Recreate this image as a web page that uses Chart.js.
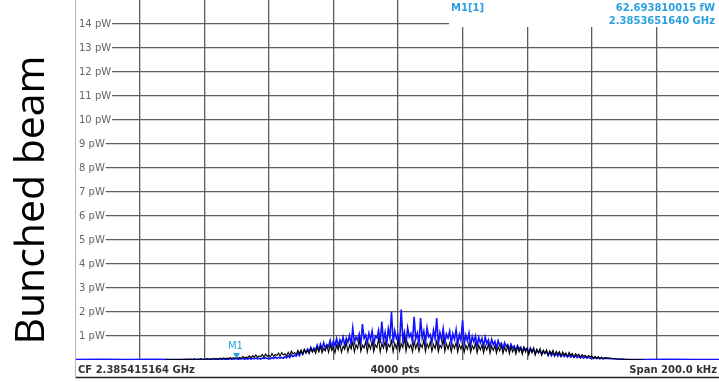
<!DOCTYPE html>
<html>
<head>
<meta charset="utf-8">
<script src="https://cdn.jsdelivr.net/npm/chart.js@4.4.1/dist/chart.umd.min.js"></script>
<style>
  html, body { margin: 0; padding: 0; background: #fff; }
  #wrap { position: relative; width: 719px; height: 382px; overflow: hidden; }
  #side {
    position: absolute; left: -122px; top: 178px; width: 300px; height: 44px;
    line-height: 44px; text-align: center; transform: rotate(-90deg);
    font-family: "Open Sans", sans-serif; font-size: 41px; color: #000; white-space: nowrap;
  }
  canvas { position: absolute; left: 0; top: 0; }
</style>
</head>
<body>
<div id="wrap">
  <canvas id="myChart" width="719" height="382"></canvas>
  <div id="side">Bunched beam</div>
</div>
<script>
// sweep settings (kHz offset from CF)
const xGridKHz = [-80, -60, -40, -20, 0, 20, 40, 60, 80];
const yTickPW = [1, 2, 3, 4, 5, 6, 7, 8, 9, 10, 11, 12, 13, 14];
const coreStartKHz = -64;
const coreStepKHz = 0.5;

const blueCore = [
  0.03,0.02,0.04,0.02,0.03,0.03,0.04,0.02,0.03,0.02,
  0.04,0.02,0.03,0.03,0.05,0.02,0.04,0.03,0.05,0.02,
  0.05,0.03,0.04,0.03,0.06,0.03,0.05,0.04,0.06,0.03,
  0.05,0.04,0.07,0.03,0.06,0.04,0.08,0.04,0.07,0.05,
  0.08,0.05,0.07,0.04,0.09,0.06,0.1,0.06,0.08,0.05,
  0.1,0.06,0.12,0.07,0.11,0.08,0.1,0.07,0.14,0.09,
  0.18,0.1,0.22,0.14,0.2,0.16,0.3,0.18,0.36,0.24,
  0.42,0.3,0.46,0.34,0.52,0.36,0.5,0.42,0.62,0.4,
  0.66,0.46,0.72,0.5,0.64,0.56,0.82,0.52,0.78,0.6,
  0.9,0.58,0.84,0.68,0.95,0.62,0.9,0.74,1.02,0.64,
  1.33,0.72,0.96,0.82,1.08,0.64,1.5,0.9,1.04,0.7,
  1.12,0.86,1.2,0.62,1.0,0.92,1.24,0.7,1.6,0.8,
  1.15,0.66,1.3,0.94,2.0,0.7,1.22,0.9,1.06,0.64,
  2.1,0.86,1.16,0.68,1.34,0.96,1.1,0.74,1.8,0.88,
  1.12,0.66,1.75,0.92,1.2,0.7,1.34,0.96,1.06,0.72,
  1.24,0.9,1.75,0.66,1.14,0.84,1.3,0.7,1.08,0.92,
  1.2,0.68,1.1,0.86,1.26,0.64,1.06,0.82,1.65,0.66,
  1.04,0.8,1.12,0.6,0.98,0.76,1.0,0.58,0.94,0.72,
  0.9,0.56,0.96,0.68,0.84,0.52,0.86,0.64,0.78,0.5,
  0.8,0.6,0.7,0.46,0.72,0.56,0.64,0.42,0.66,0.5,
  0.58,0.38,0.6,0.46,0.54,0.34,0.52,0.42,0.48,0.3,
  0.5,0.36,0.44,0.26,0.42,0.32,0.38,0.24,0.37,0.28,
  0.35,0.2,0.32,0.18,0.3,0.17,0.29,0.16,0.26,0.15,
  0.25,0.14,0.23,0.13,0.21,0.12,0.2,0.11,0.18,0.1,
  0.16,0.09,0.15,0.08,0.14,0.08,0.12,0.07,0.11,0.06,
  0.1,0.06,0.09,0.05,0.08,0.05,0.07
];
const blueTailLeftKHz = [-100, -92, -84, -76, -68];
const blueTailLeft = [0.02, 0.03, 0.02, 0.03, 0.02];
const blueTailRightKHz = [66, 70, 76, 84, 92, 100];
const blueTailRight = [0.05, 0.03, 0.02, 0.03, 0.02, 0.02];

// trace 2 (black), pW
const blackCore = [
  0.03,0.02,0.04,0.02,0.03,0.03,0.05,0.02,0.04,0.03,
  0.06,0.03,0.05,0.04,0.07,0.04,0.06,0.04,0.08,0.05,
  0.09,0.05,0.08,0.06,0.1,0.06,0.09,0.07,0.12,0.07,
  0.11,0.06,0.15,0.08,0.12,0.1,0.17,0.09,0.18,0.12,
  0.21,0.11,0.17,0.14,0.23,0.12,0.25,0.16,0.2,0.13,
  0.27,0.15,0.23,0.19,0.29,0.16,0.31,0.21,0.26,0.17,
  0.32,0.2,0.37,0.25,0.31,0.22,0.4,0.27,0.42,0.24,
  0.45,0.3,0.39,0.26,0.49,0.33,0.44,0.28,0.53,0.34,
  0.56,0.3,0.48,0.38,0.6,0.32,0.63,0.4,0.54,0.3,
  0.62,0.42,0.68,0.32,0.58,0.44,0.72,0.34,0.62,0.46,
  0.74,0.34,0.64,0.48,0.86,0.36,0.62,0.5,0.76,0.33,
  0.68,0.46,0.78,0.35,0.64,0.52,0.9,0.34,0.7,0.5,
  0.76,0.36,0.66,0.54,0.8,0.34,0.7,0.48,0.82,0.38,
  0.68,0.52,0.93,0.36,0.72,0.5,0.64,0.34,0.78,0.48,
  0.7,0.36,0.66,0.52,0.84,0.35,0.68,0.5,0.76,0.36,
  0.66,0.48,0.78,0.34,0.62,0.5,0.88,0.36,0.68,0.46,
  0.7,0.34,0.66,0.48,0.72,0.33,0.64,0.46,0.67,0.32,
  0.62,0.44,0.72,0.32,0.6,0.45,0.7,0.3,0.62,0.42,
  0.64,0.3,0.6,0.42,0.66,0.28,0.58,0.4,0.6,0.28,
  0.56,0.38,0.62,0.27,0.53,0.36,0.59,0.26,0.55,0.34,
  0.52,0.25,0.56,0.34,0.49,0.24,0.53,0.33,0.5,0.22,
  0.46,0.3,0.51,0.21,0.44,0.29,0.47,0.2,0.41,0.27,
  0.42,0.19,0.38,0.26,0.4,0.17,0.36,0.24,0.35,0.16,
  0.34,0.22,0.29,0.14,0.32,0.2,0.27,0.12,0.26,0.18,
  0.24,0.11,0.22,0.16,0.2,0.09,0.19,0.14,0.17,0.08,
  0.15,0.07,0.14,0.06,0.12,0.05,0.1
];
const blackTailLeftKHz = [-72, -68];
const blackTailLeft = [0.01, 0.02];
const blackTailRightKHz = [66, 68, 70, 72, 76];
const blackTailRight = [0.07, 0.04, 0.03, 0.02, 0.01];

// marker
const markerKHz = -50;
const markerPW = 0.0627;

const BLUE_TXT = "#2b9fe0";

function trace(tailX, tailY, core, tailX2, tailY2) {
  const pts = tailX.map((x, i) => ({ x: x, y: tailY[i] }));
  core.forEach((y, i) => pts.push({ x: coreStartKHz + i * coreStepKHz, y: y }));
  tailX2.forEach((x, i) => pts.push({ x: x, y: tailY2[i] }));
  return pts;
}

const overlay = {
  id: "overlay",
  afterDraw(chart) {
    const c = chart.ctx;
    const xs = chart.scales.x, ys = chart.scales.y;
    c.save();
    // marker readout box
    c.fillStyle = "#fff";
    c.fillRect(449, 0, 270, 27);
    c.fillStyle = BLUE_TXT;
    c.font = "bold 10px 'DejaVu Sans'";
    c.textAlign = "left";
    c.fillText("M1[1]", 451, 11);
    c.textAlign = "right";
    c.fillText("62.693810015 fW", 715, 11);
    c.fillText("2.3853651640 GHz", 715, 24);

    // marker triangle + label
    const mx = xs.getPixelForValue(markerKHz);
    const my = ys.getPixelForValue(markerPW);
    c.beginPath();
    c.moveTo(mx - 3.5, my - 5.5);
    c.lineTo(mx + 3.5, my - 5.5);
    c.lineTo(mx, my);
    c.closePath();
    c.fill();
    c.font = "10px 'DejaVu Sans'";
    c.textAlign = "center";
    c.fillText("M1", mx - 1, my - 9);

    // footer
    c.fillStyle = "#fff";
    c.fillRect(76, 361, 643, 15);
    c.fillStyle = "#333";
    c.font = "bold 10px 'DejaVu Sans'";
    c.textAlign = "left";
    c.fillText("CF 2.385415164 GHz", 78, 373);
    c.textAlign = "center";
    c.fillText("4000 pts", 395, 373);
    c.textAlign = "right";
    c.fillText("Span 200.0 kHz", 717, 373);
    c.strokeStyle = "#222";
    c.lineWidth = 1.6;
    c.beginPath();
    c.moveTo(75, 377.5);
    c.lineTo(719, 377.5);
    c.stroke();
    c.strokeStyle = "#b5b5b5";
    c.lineWidth = 1;
    c.beginPath();
    c.moveTo(75.5, 0);
    c.lineTo(75.5, 378);
    c.stroke();
    c.restore();
  }
};

function noPad(s) {
  s.paddingTop = 0;
  s.paddingBottom = 0;
  s.paddingLeft = 0;
  s.paddingRight = 0;
}

const ctx = document.getElementById("myChart");

const chart = new Chart(ctx, {
  type: "line",
  data: {
    datasets: [
      {
        label: "Trc 2",
        data: trace(blackTailLeftKHz, blackTailLeft, blackCore, blackTailRightKHz, blackTailRight),
        borderColor: "#000",
        borderWidth: 1.1,
        pointRadius: 0,
        tension: 0,
      },
      {
        label: "Trc 1",
        data: trace(blueTailLeftKHz, blueTailLeft, blueCore, blueTailRightKHz, blueTailRight),
        borderColor: "#1212ff",
        borderWidth: 1.6,
        pointRadius: 0,
        tension: 0,
      },
    ],
  },
  options: {
    responsive: false,
    animation: false,
    layout: { padding: { left: 75, right: 0, top: 0, bottom: 22 } },
    scales: {
      x: {
        type: "linear",
        min: -100,
        max: 99.4,
        afterBuildTicks: (s) => { s.ticks = xGridKHz.map((v) => ({ value: v })); },
        afterFit: (s) => { s.height = 0; noPad(s); },
        ticks: { display: false },
        grid: { color: "#5c5c5c", lineWidth: 1.3, drawTicks: false },
        border: { display: false },
      },
      y: {
        min: 0,
        max: 15,
        afterBuildTicks: (s) => { s.ticks = yTickPW.map((v) => ({ value: v })); },
        afterFit: (s) => { s.width = 0; noPad(s); },
        ticks: {
          mirror: true,
          padding: 4,
          color: "#666",
          font: { family: "DejaVu Sans", size: 10 },
          callback: (v) => v + " pW",
          showLabelBackdrop: true,
          backdropColor: "#fff",
          backdropPadding: { left: 3, right: 1, top: 1, bottom: 1 },
        },
        grid: { color: "#5c5c5c", lineWidth: 1.3, drawTicks: false },
        border: { display: false },
      },
    },
    plugins: {
      legend: { display: false },
      tooltip: { enabled: false },
    },
  },
  plugins: [overlay],
});
</script>
</body>
</html>
